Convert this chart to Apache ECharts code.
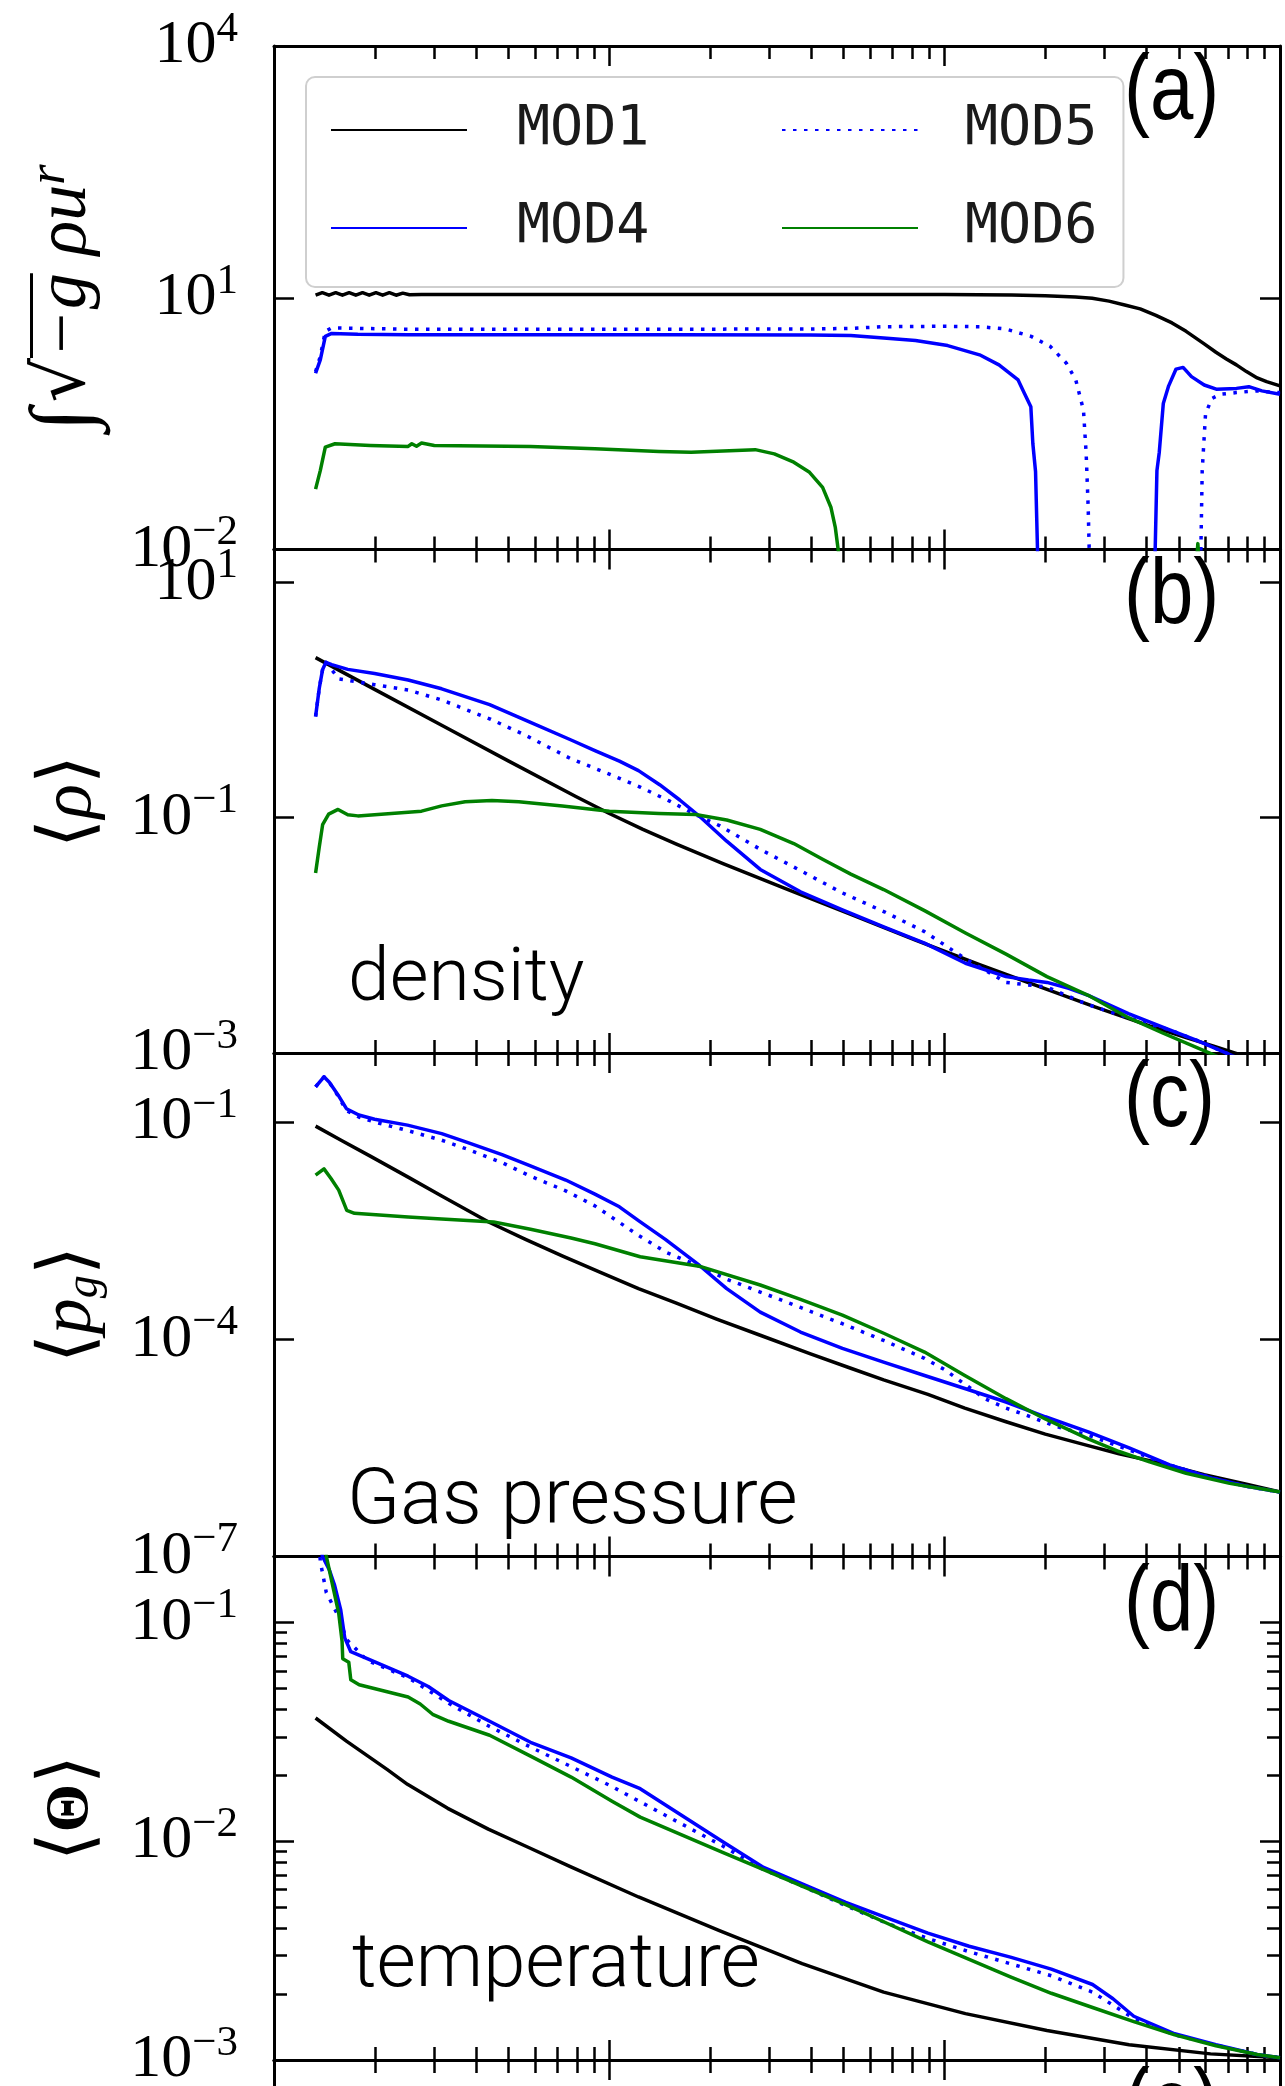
<!DOCTYPE html>
<html>
<head>
<meta charset="utf-8">
<script src="https://cdn.jsdelivr.net/npm/echarts@6/dist/echarts.min.js"></script>
<style>
  html, body { margin: 0; padding: 0; background: #ffffff; }
  #chart { width: 1285px; height: 2086px; }
</style>
</head>
<body>
<div id="chart"></div>
<script>
// Radial profiles, each point is [log10 r, log10 value].

// (a) integrated flux  ∫ sqrt(-g) rho u^r
const fluxMOD1 = [[0.124,1.03],[0.144,1.06],[0.164,1.03],[0.184,1.06],[0.204,1.03],[0.224,1.06],[0.244,1.03],[0.264,1.06],[0.284,1.03],[0.304,1.06],[0.324,1.03],[0.344,1.06],[0.364,1.03],[0.384,1.055],[0.404,1.035],[0.44,1.04],[0.8,1.04],[1.2,1.04],[1.6,1.04],[2.0,1.04],[2.1,1.037],[2.2,1.033],[2.3,1.025],[2.39,1.01],[2.44,0.995],[2.49,0.96],[2.54,0.91],[2.583,0.868],[2.63,0.79],[2.678,0.70],[2.72,0.6],[2.774,0.45],[2.809,0.35],[2.84,0.27],[2.87,0.2],[2.9,0.12],[2.932,0.045],[2.96,0.0],[3.0,-0.05]];
const fluxMOD4 = [[0.124,0.1],[0.138,0.26],[0.153,0.54],[0.172,0.575],[0.25,0.565],[0.4,0.56],[0.8,0.56],[1.2,0.56],[1.6,0.555],[1.72,0.55],[1.818,0.52],[1.913,0.49],[2.009,0.43],[2.104,0.32],[2.162,0.2],[2.219,0.02],[2.238,-0.14],[2.257,-0.3],[2.263,-0.74],[2.271,-1.07],[2.28,-2.5],[2.45,-2.5],[2.625,-2.5],[2.633,-1.06],[2.64,-0.84],[2.652,-0.26],[2.668,-0.05],[2.69,0.15],[2.711,0.17],[2.736,0.06],[2.774,-0.04],[2.81,-0.09],[2.87,-0.08],[2.907,-0.06],[2.946,-0.11],[3.0,-0.15]];
const fluxMOD5 = [[0.124,0.12],[0.138,0.3],[0.153,0.6],[0.172,0.64],[0.4,0.625],[0.8,0.625],[1.2,0.625],[1.6,0.628],[1.72,0.635],[1.818,0.655],[2.0,0.66],[2.104,0.655],[2.181,0.628],[2.258,0.54],[2.315,0.42],[2.363,0.22],[2.391,0.02],[2.414,-0.34],[2.422,-0.86],[2.428,-1.5],[2.434,-2.5],[2.6,-2.5],[2.762,-2.5],[2.768,-1.06],[2.778,-0.38],[2.797,-0.2],[2.822,-0.15],[2.87,-0.13],[2.927,-0.11],[3.0,-0.13]];
const fluxMOD6 = [[0.124,-1.28],[0.138,-1.06],[0.153,-0.78],[0.182,-0.74],[0.287,-0.76],[0.4,-0.772],[0.411,-0.74],[0.425,-0.77],[0.44,-0.732],[0.478,-0.76],[0.765,-0.772],[0.957,-0.8],[1.148,-0.832],[1.244,-0.84],[1.339,-0.825],[1.435,-0.81],[1.492,-0.86],[1.55,-0.96],[1.597,-1.08],[1.636,-1.26],[1.661,-1.5],[1.674,-1.74],[1.684,-2.05],[1.69,-2.5],[2.2,-2.5],[2.745,-2.5],[2.755,-1.93],[2.765,-2.5],[3.0,-2.5]];

// (b) density <rho>
const densMOD1 = [[0.124,0.36],[0.3,0.09],[0.5,-0.215],[0.7,-0.52],[0.9,-0.82],[1.0,-0.965],[1.1,-1.1],[1.2,-1.225],[1.339,-1.39],[1.531,-1.61],[1.722,-1.825],[1.913,-2.04],[2.104,-2.25],[2.305,-2.46],[2.45,-2.61],[2.611,-2.77],[2.72,-2.87],[2.8,-2.94],[2.86,-2.995],[2.92,-3.05]];
const densMOD4 = [[0.124,-0.14],[0.135,0.1],[0.145,0.26],[0.155,0.32],[0.172,0.3],[0.22,0.26],[0.3,0.225],[0.4,0.17],[0.5,0.095],[0.643,-0.04],[0.765,-0.19],[0.886,-0.34],[0.957,-0.43],[1.03,-0.52],[1.087,-0.6],[1.15,-0.72],[1.21,-0.85],[1.268,-0.986],[1.35,-1.2],[1.45,-1.44],[1.57,-1.63],[1.695,-1.783],[1.82,-1.93],[1.94,-2.066],[2.062,-2.237],[2.183,-2.351],[2.25,-2.38],[2.305,-2.4],[2.37,-2.45],[2.428,-2.51],[2.548,-2.666],[2.671,-2.803],[2.75,-2.89],[2.818,-2.974],[2.88,-3.05]];
const densMOD5 = [[0.124,-0.14],[0.135,0.1],[0.145,0.26],[0.155,0.32],[0.193,0.18],[0.3,0.13],[0.4,0.085],[0.5,0.0],[0.643,-0.16],[0.75,-0.3],[0.886,-0.5],[1.0,-0.63],[1.092,-0.74],[1.18,-0.86],[1.257,-0.974],[1.33,-1.07],[1.45,-1.269],[1.57,-1.45],[1.695,-1.64],[1.82,-1.8],[1.94,-1.969],[2.062,-2.2],[2.183,-2.40],[2.305,-2.44],[2.428,-2.59],[2.548,-2.7],[2.671,-2.803],[2.75,-2.89],[2.818,-2.974],[2.88,-3.05]];
const densMOD6 = [[0.124,-1.47],[0.135,-1.25],[0.145,-1.06],[0.163,-0.97],[0.191,-0.93],[0.22,-0.975],[0.25,-0.985],[0.35,-0.965],[0.44,-0.945],[0.5,-0.9],[0.57,-0.865],[0.65,-0.855],[0.73,-0.865],[0.86,-0.9],[1.0,-0.945],[1.148,-0.965],[1.257,-0.974],[1.35,-1.02],[1.45,-1.10],[1.55,-1.22],[1.636,-1.354],[1.72,-1.48],[1.818,-1.611],[1.94,-1.79],[2.062,-1.98],[2.183,-2.16],[2.305,-2.351],[2.428,-2.51],[2.548,-2.70],[2.65,-2.83],[2.768,-2.974],[2.83,-3.05]];

// (c) gas pressure <p_g>
const presMOD1 = [[0.124,-1.056],[0.2,-1.25],[0.287,-1.47],[0.4,-1.76],[0.5,-2.02],[0.64,-2.38],[0.75,-2.62],[0.861,-2.85],[0.97,-3.07],[1.087,-3.30],[1.2,-3.5],[1.32,-3.72],[1.45,-3.944],[1.6,-4.2],[1.72,-4.4],[1.818,-4.56],[1.95,-4.76],[2.06,-4.95],[2.183,-5.139],[2.3,-5.31],[2.428,-5.468],[2.52,-5.58],[2.611,-5.676],[2.7,-5.78],[2.774,-5.87],[2.9,-6.0],[3.0,-6.11]];
const presMOD4 = [[0.124,-0.514],[0.149,-0.375],[0.165,-0.45],[0.191,-0.625],[0.216,-0.815],[0.253,-0.903],[0.3,-0.96],[0.398,-1.042],[0.5,-1.16],[0.574,-1.278],[0.68,-1.45],[0.761,-1.597],[0.87,-1.8],[0.957,-1.995],[1.03,-2.17],[1.087,-2.36],[1.167,-2.62],[1.268,-2.977],[1.35,-3.3],[1.45,-3.625],[1.57,-3.9],[1.695,-4.125],[1.82,-4.32],[1.94,-4.5],[2.06,-4.68],[2.183,-4.866],[2.3,-5.07],[2.428,-5.278],[2.55,-5.5],[2.671,-5.736],[2.8,-5.92],[2.9,-6.03],[3.0,-6.111]];
const presMOD5 = [[0.124,-0.514],[0.149,-0.375],[0.165,-0.45],[0.191,-0.64],[0.216,-0.84],[0.253,-0.93],[0.3,-1.0],[0.398,-1.116],[0.5,-1.25],[0.574,-1.37],[0.68,-1.56],[0.761,-1.74],[0.87,-1.95],[0.957,-2.157],[1.087,-2.565],[1.17,-2.8],[1.268,-2.99],[1.35,-3.17],[1.45,-3.347],[1.57,-3.56],[1.695,-3.785],[1.82,-4.02],[1.94,-4.264],[2.0,-4.42],[2.06,-4.62],[2.12,-4.82],[2.183,-4.95],[2.244,-5.05],[2.33,-5.2],[2.428,-5.324],[2.55,-5.53],[2.671,-5.736],[2.8,-5.92],[2.9,-6.03],[3.0,-6.111]];
const presMOD6 = [[0.124,-1.733],[0.149,-1.646],[0.17,-1.78],[0.193,-1.94],[0.217,-2.22],[0.24,-2.26],[0.4,-2.31],[0.5,-2.34],[0.655,-2.38],[0.765,-2.48],[0.886,-2.6],[0.957,-2.68],[1.092,-2.86],[1.268,-2.99],[1.45,-3.25],[1.57,-3.45],[1.695,-3.667],[1.82,-3.92],[1.94,-4.176],[2.06,-4.5],[2.183,-4.82],[2.3,-5.1],[2.428,-5.375],[2.52,-5.55],[2.611,-5.694],[2.72,-5.85],[2.85,-5.99],[3.0,-6.11]];

// (d) temperature <Theta>
const tempMOD1 = [[0.124,-1.437],[0.216,-1.543],[0.337,-1.672],[0.398,-1.74],[0.518,-1.85],[0.639,-1.945],[0.761,-2.03],[0.882,-2.115],[1.087,-2.255],[1.33,-2.41],[1.575,-2.56],[1.818,-2.69],[2.062,-2.788],[2.305,-2.865],[2.55,-2.93],[2.793,-2.972],[3.0,-2.99]];
const tempMOD4 = [[0.124,-0.3],[0.144,-0.697],[0.165,-0.76],[0.181,-0.832],[0.199,-0.943],[0.211,-1.071],[0.229,-1.134],[0.278,-1.166],[0.4,-1.246],[0.46,-1.293],[0.521,-1.357],[0.643,-1.452],[0.765,-1.548],[0.886,-1.619],[1.008,-1.707],[1.092,-1.76],[1.214,-1.88],[1.336,-2.0],[1.46,-2.12],[1.582,-2.2],[1.705,-2.28],[1.828,-2.35],[1.95,-2.42],[2.073,-2.48],[2.196,-2.53],[2.318,-2.585],[2.441,-2.655],[2.502,-2.72],[2.564,-2.8],[2.686,-2.88],[2.809,-2.93],[2.932,-2.975],[3.0,-2.99]];
const tempMOD5 = [[0.124,-0.35],[0.138,-0.721],[0.156,-0.864],[0.193,-0.975],[0.217,-1.079],[0.278,-1.174],[0.4,-1.253],[0.521,-1.37],[0.643,-1.476],[0.765,-1.57],[0.886,-1.659],[1.008,-1.75],[1.092,-1.82],[1.214,-1.92],[1.336,-2.02],[1.46,-2.13],[1.582,-2.21],[1.705,-2.295],[1.828,-2.375],[1.95,-2.445],[2.073,-2.505],[2.196,-2.56],[2.318,-2.615],[2.441,-2.69],[2.564,-2.81],[2.686,-2.885],[2.809,-2.932],[2.932,-2.975],[3.0,-2.99]];
const tempMOD6 = [[0.124,-0.3],[0.156,-0.697],[0.175,-0.832],[0.193,-0.959],[0.203,-1.087],[0.205,-1.166],[0.223,-1.182],[0.229,-1.262],[0.254,-1.285],[0.4,-1.341],[0.436,-1.373],[0.473,-1.42],[0.521,-1.452],[0.643,-1.516],[0.765,-1.611],[0.886,-1.707],[1.008,-1.817],[1.092,-1.89],[1.214,-1.97],[1.336,-2.05],[1.46,-2.13],[1.582,-2.21],[1.705,-2.29],[1.828,-2.375],[1.95,-2.46],[2.073,-2.54],[2.196,-2.62],[2.318,-2.695],[2.441,-2.76],[2.564,-2.825],[2.686,-2.885],[2.809,-2.935],[2.932,-2.975],[3.0,-2.99]];

// Axis ranges and labelled ticks
const X_RANGE = [1, 1000];
const Y_RANGE_A = [1e-2, 1e4];
const Y_RANGE_B = [1e-3, 19];
const Y_RANGE_C = [1e-7, 0.9];
const Y_RANGE_D = [1e-3, 0.2];
const TICKS_A = [1e-2, 1e1, 1e4];
const TICKS_B = [1e-3, 1e-1, 1e1];
const TICKS_C = [1e-7, 1e-4, 1e-1];
const TICKS_D = [1e-3, 1e-2, 1e-1];
const MINOR_D = [0.002,0.003,0.004,0.005,0.006,0.007,0.008,0.009,0.02,0.03,0.04,0.05,0.06,0.07,0.08,0.09];
const MODELS = ['MOD1', 'MOD4', 'MOD5', 'MOD6'];
const PANEL_LETTERS = ['(a)', '(b)', '(c)', '(d)', '(e)'];

// ---- layout & styling ----
const GRID_LEFT = 274, GRID_WIDTH = 1006, PANEL_H = 503.5;
const PANEL_TOP = [46, 549.5, 1053, 1556.5, 2060];
const LINE_COLOR = { MOD1: '#000000', MOD4: '#0000ff', MOD5: '#0000ff', MOD6: '#008000' };
const LINE_TYPE = { MOD1: 'solid', MOD4: 'solid', MOD5: [3.5, 7.5], MOD6: 'solid' };
const SERIF = 'Liberation Serif';
const LIGHT_SANS = "'Roboto Light', 'Lato Light', 'Open Sans Light', Roboto, sans-serif";

// bar image used as the vinculum of the square root in the flux label
const vinculum = document.createElement('canvas');
vinculum.width = 8; vinculum.height = 72;
(function () {
  const c = vinculum.getContext('2d');
  c.fillStyle = '#000';
  c.fillRect(0, 0, 8, 3);
})();

const panels = [
  { range: Y_RANGE_A, ticks: TICKS_A, data: { MOD1: fluxMOD1, MOD4: fluxMOD4, MOD5: fluxMOD5, MOD6: fluxMOD6 },
    name: '{i|∫}{n| }{r|√}{o|\u2212g}{m| ρu}{s|r}' },
  { range: Y_RANGE_B, ticks: TICKS_B, data: { MOD1: densMOD1, MOD4: densMOD4, MOD5: densMOD5, MOD6: densMOD6 },
    name: '{a|⟨}{m|ρ}{a|⟩}' },
  { range: Y_RANGE_C, ticks: TICKS_C, data: { MOD1: presMOD1, MOD4: presMOD4, MOD5: presMOD5, MOD6: presMOD6 },
    name: '{a|⟨}{m|p}{sub|g}{a|⟩}' },
  { range: Y_RANGE_D, ticks: TICKS_D, minor: MINOR_D, data: { MOD1: tempMOD1, MOD4: tempMOD4, MOD5: tempMOD5, MOD6: tempMOD6 },
    name: '{a|⟨}{t|Θ}{a|⟩}' }
];

const nameRich = {
  i: { fontFamily: SERIF, fontSize: 84, fontStyle: 'italic', color: '#000' },
  n: { fontFamily: SERIF, fontSize: 22, color: '#000' },
  r: { fontFamily: 'DejaVu Serif', fontSize: 70, color: '#000' },
  o: { fontFamily: SERIF, fontSize: 72, fontStyle: 'italic', color: '#000', lineHeight: 68,
       backgroundColor: { image: vinculum } },
  m: { fontFamily: SERIF, fontSize: 72, fontStyle: 'italic', color: '#000' },
  s: { fontFamily: SERIF, fontSize: 52, fontStyle: 'italic', color: '#000', verticalAlign: 'top' },
  sub: { fontFamily: SERIF, fontSize: 46, fontStyle: 'italic', color: '#000', verticalAlign: 'bottom' },
  a: { fontFamily: 'DejaVu Sans', fontSize: 74, fontWeight: 'lighter', color: '#000' },
  t: { fontFamily: SERIF, fontSize: 62, fontWeight: 'bold', color: '#000' }
};

function powLabel(v) {
  const e = Math.round(Math.log10(v));
  return '{b|10}{s|' + (e < 0 ? '\u2212' + (-e) : String(e)) + '}';
}
const tickRich = {
  b: { fontFamily: SERIF, fontSize: 62, lineHeight: 76, color: '#000' },
  s: { fontFamily: SERIF, fontSize: 43, lineHeight: 43, color: '#000', verticalAlign: 'top' }
};

const axisLineStyle = { show: true, onZero: false, lineStyle: { color: '#000', width: 3 } };

const grids = PANEL_TOP.map(t => ({
  left: GRID_LEFT, top: t, width: GRID_WIDTH, height: PANEL_H,
  containLabel: false, outerBoundsMode: 'none', show: false
}));

const xAxes = [];
PANEL_TOP.forEach((t, g) => {
  ['bottom', 'top'].forEach(pos => {
    xAxes.push({
      type: 'log', logBase: 10, gridIndex: g, position: pos,
      min: X_RANGE[0], max: X_RANGE[1],
      axisLine: axisLineStyle,
      axisTick: { show: true, inside: true, length: 20, lineStyle: { color: '#000', width: 2.5 } },
      minorTick: { show: true, splitNumber: 9, length: 13, lineStyle: { color: '#000', width: 2.5 } },
      axisLabel: { show: false },
      splitLine: { show: false }, minorSplitLine: { show: false }
    });
  });
});

const yAxes = [];
const dataYIndex = [];
panels.forEach((p, g) => {
  dataYIndex.push(yAxes.length);
  ['left', 'right'].forEach(pos => {
    const left = pos === 'left';
    yAxes.push({
      type: 'log', logBase: 10, gridIndex: g, position: pos,
      min: p.range[0], max: p.range[1],
      axisLine: axisLineStyle,
      axisTick: { show: true, inside: true, length: 20, customValues: p.ticks, lineStyle: { color: '#000', width: 2.5 } },
      axisLabel: {
        show: left, inside: false, margin: 36, customValues: p.ticks,
        formatter: powLabel, rich: tickRich, hideOverlap: false
      },
      splitLine: { show: false },
      name: left ? p.name : '',
      nameLocation: 'middle', nameGap: 166, nameRotate: 90, nameMoveOverlap: false,
      nameTextStyle: { rich: nameRich }
    });
  });
  if (p.minor) {
    ['left', 'right'].forEach(pos => {
      yAxes.push({
        type: 'log', logBase: 10, gridIndex: g, position: pos,
        min: p.range[0], max: p.range[1],
        axisLine: axisLineStyle,
        axisTick: { show: true, inside: true, length: 13, customValues: p.minor, lineStyle: { color: '#000', width: 2.5 } },
        axisLabel: { show: false }, splitLine: { show: false }
      });
    });
  }
});
// panel (e): only its frame shows at the bottom edge
['left', 'right'].forEach(pos => {
  yAxes.push({
    type: 'value', gridIndex: 4, position: pos, min: 0, max: 1,
    axisLine: axisLineStyle, axisTick: { show: false }, axisLabel: { show: false }, splitLine: { show: false }
  });
});

function toPoints(arr) {
  return arr.map(p => [Math.pow(10, p[0]), Math.pow(10, p[1])]);
}

const series = [];
panels.forEach((p, g) => {
  MODELS.forEach(m => {
    series.push({
      type: 'line', name: m,
      xAxisIndex: 2 * g, yAxisIndex: dataYIndex[g],
      data: toPoints(p.data[m]),
      symbol: 'none', showSymbol: false, smooth: false,
      clip: true, silent: true,
      lineStyle: { color: LINE_COLOR[m], width: 3.5, type: LINE_TYPE[m], join: 'round' },
      itemStyle: { color: LINE_COLOR[m] },
      emphasis: { disabled: true }
    });
  });
});

const panelText = PANEL_LETTERS.map((t, i) => ({
  type: 'text', x: 1124, y: PANEL_TOP[i] + 2, scaleY: 1.18, z: 10,
  style: { text: t, fontFamily: 'Liberation Sans', fontSize: 78, fill: '#000', align: 'left', verticalAlign: 'top' }
}));
const annot = [
  { text: 'density', x: 348, y: 940, size: 75 },
  { text: 'Gas pressure', x: 347, y: 1461, size: 78 },
  { text: 'temperature', x: 352, y: 1926, size: 76 }
].map(a => ({
  type: 'text', x: a.x, y: a.y, z: 10,
  style: { text: a.text, fontFamily: LIGHT_SANS, fontWeight: 300, fontSize: a.size, fill: '#000', align: 'left', verticalAlign: 'top' }
}));

const chart = echarts.init(document.getElementById('chart'), null, { renderer: 'canvas' });
chart.setOption({
  animation: false,
  backgroundColor: '#ffffff',
  grid: grids,
  xAxis: xAxes,
  yAxis: yAxes,
  legend: {
    left: 306, top: 77, width: 800, orient: 'horizontal',
    itemWidth: 136, itemHeight: 20, itemGap: 43,
    padding: [25.5, 26, 31.5, 24],
    backgroundColor: 'rgba(255,255,255,0.8)',
    borderColor: '#cfcfcf', borderWidth: 2, borderRadius: 9,
    selectedMode: false,
    itemStyle: { opacity: 0, borderWidth: 0 },
    textStyle: { fontFamily: 'DejaVu Sans Mono', fontSize: 55, lineHeight: 55, color: '#1a1a1a' },
    data: [
      { name: 'MOD1', textStyle: { width: 221, padding: [0, 0, 0, 45] } },
      { name: 'MOD5', textStyle: { padding: [0, 0, 0, 42] } },
      { name: 'MOD4', textStyle: { width: 221, padding: [0, 0, 0, 45] } },
      { name: 'MOD6', textStyle: { padding: [0, 0, 0, 42] } }
    ]
  },
  graphic: panelText.concat(annot),
  series: series
});
</script>
</body>
</html>
